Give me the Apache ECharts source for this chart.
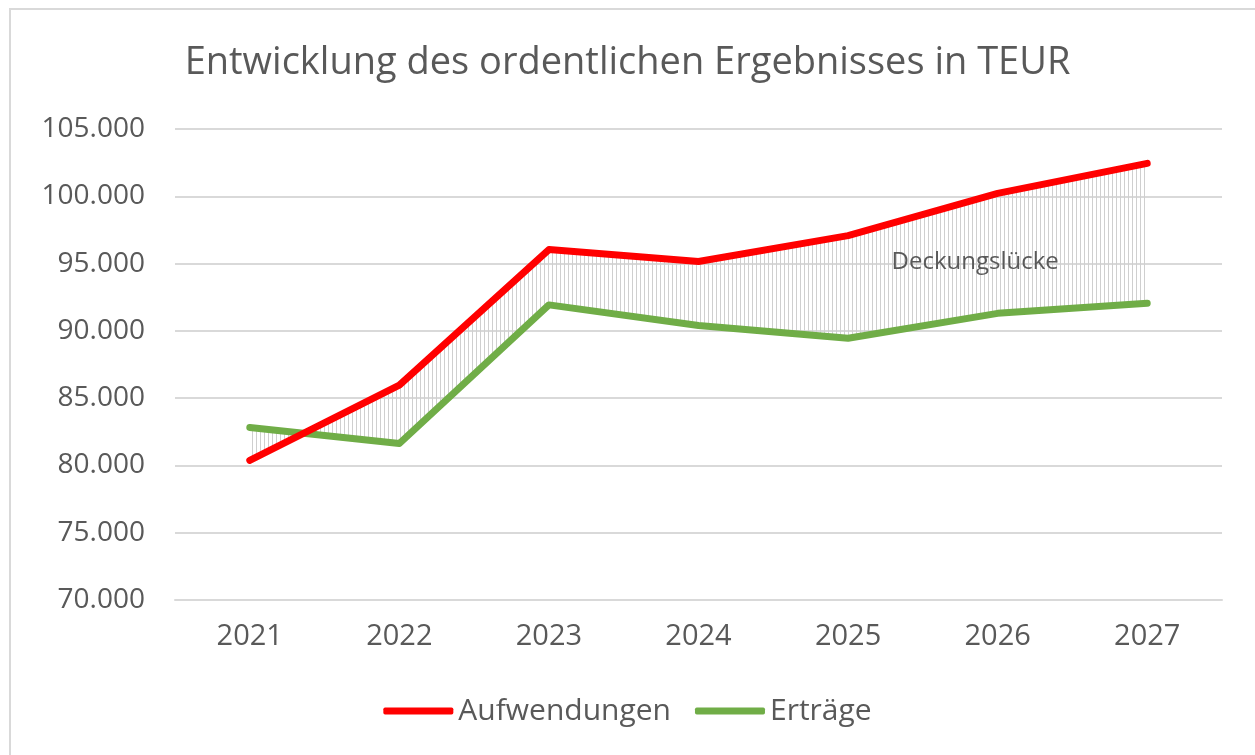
<!DOCTYPE html>
<html>
<head>
<meta charset="utf-8">
<script src="https://cdn.jsdelivr.net/npm/echarts@6/dist/echarts.min.js"></script>
<style>
html,body{margin:0;padding:0;background:#fff;}
#frame{position:absolute;left:9px;top:8px;width:1300px;height:800px;border:2px solid #d9d9d9;box-sizing:border-box;}
#chart{position:absolute;left:0;top:0;width:1255px;height:755px;}
</style>
</head>
<body>
<div id="frame"></div>
<div id="chart"></div>
<script>
const years = ['2021','2022','2023','2024','2025','2026','2027'];
const aufwendungen = [80370, 85970, 96040, 95150, 97080, 100220, 102450];
const ertraege = [82820, 81630, 91930, 90400, 89450, 91300, 92050];
const gapLabel = 'Deckungslücke';
const titleText = 'Entwicklung des ordentlichen Ergebnisses in TEUR';

const FONT = '"Open Sans", "Noto Sans", sans-serif';
const TXT = '#595959';

// hatch pattern (vertical thin lines)
const pc = document.createElement('canvas');
pc.width = 4; pc.height = 4;
const pctx = pc.getContext('2d');
pctx.fillStyle = '#cfcfcf';
pctx.fillRect(0, 0, 1, 4);

const segData = [];
for (let i = 0; i < years.length - 1; i++) {
  segData.push([i, aufwendungen[i], aufwendungen[i + 1], ertraege[i], ertraege[i + 1]]);
}

const chart = echarts.init(document.getElementById('chart'));
chart.setOption({
  animation: false,
  title: {
    text: titleText, left: 'center', top: 39,
    textStyle: { fontFamily: FONT, fontSize: 38, fontWeight: 'normal', color: TXT, letterSpacing: -0.8 }
  },
  grid: { left: 175, right: 33, top: 129, bottom: 155 },
  legend: {
    top: 691, left: 'center', itemGap: 24, itemWidth: 70, itemHeight: 7,
    icon: 'roundRect',
    data: ['Aufwendungen', 'Erträge'],
    textStyle: { fontFamily: FONT, fontSize: 30, color: TXT }
  },
  xAxis: {
    type: 'category', data: years, boundaryGap: true,
    axisLine: { show: true, lineStyle: { color: '#d9d9d9', width: 2 } },
    axisTick: { show: false },
    axisLabel: { fontFamily: FONT, fontSize: 29, color: TXT, margin: 22 }
  },
  yAxis: {
    type: 'value', min: 70000, max: 105000, interval: 5000,
    axisLine: { show: false }, axisTick: { show: false },
    splitLine: { lineStyle: { color: '#d9d9d9', width: 2 } },
    axisLabel: {
      fontFamily: FONT, fontSize: 28, color: TXT, margin: 30,
      formatter: v => v.toLocaleString('de-DE')
    }
  },
  series: [
    {
      type: 'custom', name: 'gap', z: 1, silent: true,
      data: segData,
      renderItem: function (params, api) {
        const i = api.value(0);
        const p1 = api.coord([i, api.value(1)]);
        const p2 = api.coord([i + 1, api.value(2)]);
        const p3 = api.coord([i + 1, api.value(4)]);
        const p4 = api.coord([i, api.value(3)]);
        return {
          type: 'polygon',
          shape: { points: [p1, p2, p3, p4] },
          style: { fill: { image: pc, repeat: 'repeat' }, stroke: null }
        };
      }
    },
    {
      name: 'Aufwendungen', type: 'line', data: aufwendungen, z: 3,
      symbol: 'none', itemStyle: { color: '#ff0000' },
      lineStyle: { color: '#ff0000', width: 7, cap: 'round', join: 'round' }
    },
    {
      name: 'Erträge', type: 'line', data: ertraege, z: 2,
      symbol: 'none', itemStyle: { color: '#70ad47' },
      lineStyle: { color: '#70ad47', width: 7, cap: 'round', join: 'round' }
    }
  ]
});

const pa = chart.convertToPixel({ seriesIndex: 1 }, [4, 95000]);
const pb = chart.convertToPixel({ seriesIndex: 1 }, [5, 95000]);
chart.setOption({
  graphic: [{
    type: 'text', z: 10,
    x: pa[0] + (pb[0] - pa[0]) * 0.85, y: pa[1] - 1,
    style: {
      text: gapLabel, fontFamily: FONT, fontSize: 24, fill: '#595959',
      align: 'center', verticalAlign: 'middle'
    }
  }]
});
</script>
</body>
</html>
